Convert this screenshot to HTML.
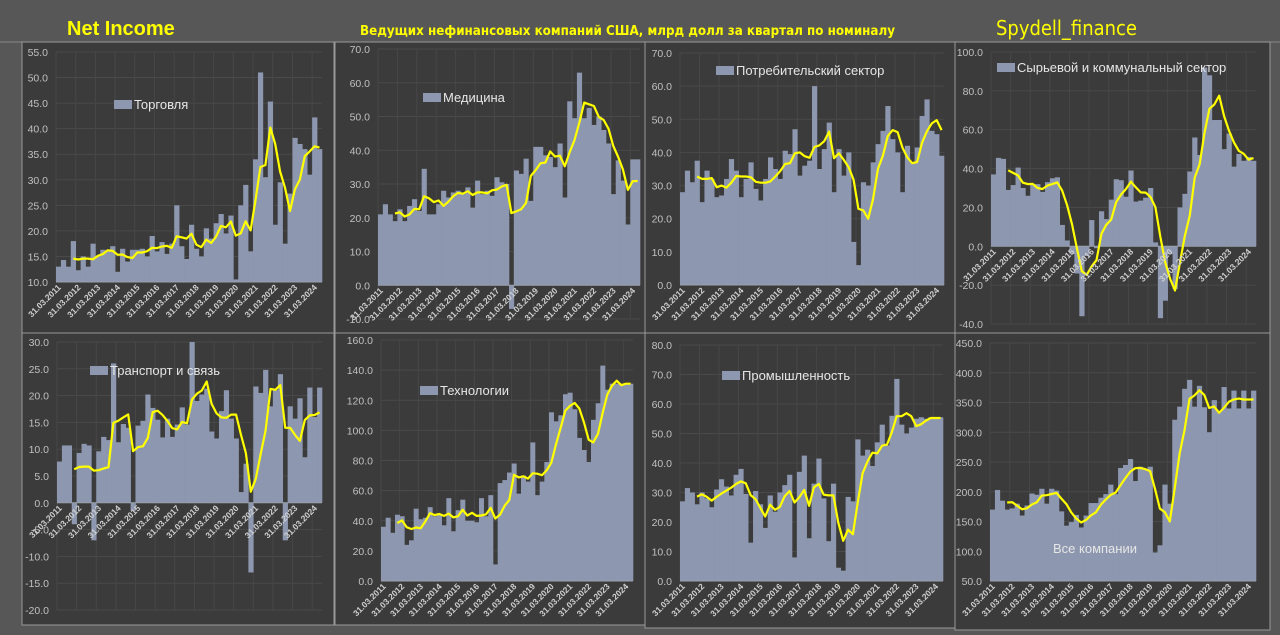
<!DOCTYPE html><html><head><meta charset="utf-8"><style>
body{margin:0;background:#575757;width:1280px;height:635px;overflow:hidden;font-family:"Liberation Sans","DejaVu Sans",sans-serif}
svg{position:absolute;left:0;top:0}
</style></head><body>
<svg id="s" width="1280" height="635" xmlns="http://www.w3.org/2000/svg">
<rect width="1280" height="635" fill="#575757"/>
<text x="67" y="35" fill="#ffff00" font-size="20" font-weight="bold" font-family="Liberation Sans, sans-serif">Net Income</text>
<text x="360" y="35" fill="#ffff00" font-size="13.5" font-weight="bold" font-family="DejaVu Sans, sans-serif" textLength="535" lengthAdjust="spacingAndGlyphs">Ведущих нефинансовых компаний США, млрд долл за квартал по номиналу</text>
<text x="996" y="35" fill="#ffff00" font-size="20" font-family="DejaVu Sans, sans-serif" textLength="141" lengthAdjust="spacingAndGlyphs">Spydell_finance</text>
<line x1="0" y1="42" x2="1280" y2="42" stroke="#8a8a8a"/>
</svg>
<script>
const S=document.getElementById('s');const NS='http://www.w3.org/2000/svg';
function el(t,a,txt){const e=document.createElementNS(NS,t);for(const k in a)e.setAttribute(k,a[k]);if(txt!=null)e.textContent=txt;S.appendChild(e);return e;}
function pad(d,n){d=d.slice();while(d.length<n)d.push(d[d.length-2]);return d.slice(0,n);}
function panel(p){
 el('rect',{x:p.bx,y:p.by,width:p.bw,height:p.bh,fill:'#3b3b3b',stroke:'#9a9a9a','stroke-width':1});
 const n=54,d=pad(p.d,n),x0=p.x0,x1=p.x1,bw=(x1-x0)/n;
 const Y=v=>p.yTop+(p.max-v)/(p.max-p.min)*(p.yBot-p.yTop);
 for(let v=p.min;v<=p.max+1e-9;v+=p.step){const y=Y(v);
  el('line',{x1:x0,y1:y,x2:x1,y2:y,stroke:'#4a4a4a'});
  el('text',{x:x0-8,y:y+4,fill:'#c0c0c0','font-size':10.5,'text-anchor':'end'},v.toFixed(1));}
 for(let i=0;i<=n;i+=4){const x=x0+i*bw;el('line',{x1:x,y1:p.yTop,x2:x,y2:p.yBot,stroke:'#474747'});}
 const base=p.min>0?p.min:0,yb=Y(base);
 let path='';
 for(let i=0;i<n;i++){const v=Math.max(Math.min(d[i],p.max),p.min);const y=Y(v);
  el('rect',{x:x0+i*bw,y:Math.min(y,yb),width:bw+0.3,height:Math.abs(yb-y),fill:'#8d98b0'});}
 el('line',{x1:x0,y1:yb,x2:x1,y2:yb,stroke:'#9aa0aa'});
 for(let i=3;i<n;i++){const m=(d[i]+d[i-1]+d[i-2]+d[i-3])/4;const v=Math.min(m,p.max);path+=(i==3?'M':'L')+(x0+(i+0.5)*bw).toFixed(1)+','+Y(v).toFixed(1);}
 el('path',{d:path,fill:'none',stroke:'#ffff00','stroke-width':2.2,'stroke-linejoin':'round'});
 for(let k=0;k<14;k++){const x=x0+(k*4+0.5)*bw+3,y=yb+6;
  el('text',{x:x,y:y,fill:'#cfcfcf','font-size':8.5,'font-weight':'bold','text-anchor':'end',transform:`rotate(-45 ${x} ${y})`},'31.03.'+(2011+k));}
 el('rect',{x:p.lx,y:p.ly-9,width:18,height:9,fill:'#8d98b0'});
 el('text',{x:p.lx+20,y:p.ly,fill:'#e6e6e6','font-size':13},p.leg);
}
const P=[
{bx:22,by:42,bw:312,bh:291,x0:56,x1:322,min:10,max:55,step:5,yTop:52,yBot:282,lx:114,ly:109,leg:'Торговля',
 d:[13,14.3,13,18,12.3,15,13,17.5,15,16.3,16,17,12,16.5,14,16.3,16.3,16.5,15,19,16,17.8,15.5,17.5,25,17,14.5,21.2,16.5,15,20.5,18.5,21.5,23.3,19.5,23,10.5,25,29,16,34,51,30.5,45.3,21.2,29.5,17.5,27.3,38.2,37,36,31,42.2,36]},
{bx:335,by:42,bw:310,bh:291,x0:378,x1:640,min:-10,max:70,step:10,yTop:49,yBot:319,lx:423,ly:102,leg:'Медицина',
 d:[21,24,21,19,22.5,19,23.5,25.5,22,34.5,21,21,24,28,26,27.5,28,27,29,23,31,27,28,26.5,32,30.5,30,-7,34,33,37.5,25,41,41,38.5,38,35,42,26,54.5,49.5,63,49.5,52.5,47.5,50,46,42,27,37,31,18,37.3,37.3]},
{bx:645,by:42,bw:310,bh:291,x0:680,x1:944,min:0,max:70,step:10,yTop:53,yBot:285,lx:716,ly:75,leg:'Потребительский сектор',
 d:[28,34.5,31,37.5,25,34.5,32,26.5,27,32,38,34.5,26.5,32,37,29,25.5,32,38.5,35,32,40.5,39.5,47,33,36,37.5,60,35,41,49,28,41,33,40,13,6,31,30,37,42.5,46.5,54,44,40,28,42,37,41.5,51,56,46.5,45.5,39]},
{bx:955,by:42,bw:315,bh:291,x0:991,x1:1256,min:-40,max:100,step:20,yTop:52,yBot:324,lx:997,ly:72,leg:'Сырьевой и коммунальный сектор',
 d:[37,45.5,45,29,31.5,40.5,30,26,32,32,28,33,35,35.5,11,3,-4,-14,-36,-5,13.5,-1,18,14,24,34.5,34,25.5,39,23,23.5,25,30,2,-37,-28,-4,-22,20,27,38.5,56,47,92,88,65,65,50,58,41,47.5,44,46,44]},
{bx:22,by:333,bw:312,bh:292,x0:57,x1:322,min:-20,max:30,step:5,yTop:342,yBot:610,lx:90,ly:375,leg:'Транспорт и связь',
 d:[7.7,10.7,10.7,-4,9.3,11,10.7,-7,9.6,12.3,11.7,26,11.3,14.7,14,-1.5,14.4,15.3,20.2,17.7,15.5,12.2,15.7,12.3,14.6,17.8,14.6,30,19,20.2,21.3,13.3,12,17.1,21,15.7,12,2,7.3,-13,21.7,20.5,24.8,18,21,24,-7,18,15.7,19.5,8.5,21.5,16,21.5]},
{bx:335,by:333,bw:310,bh:292,x0:381,x1:633,min:0,max:160,step:20,yTop:340,yBot:581,lx:420,ly:395,leg:'Технологии',
 d:[36,42,32,44,43,24,27,48,41,42,49,43,44,37,55,33,47,54,40,40,39,55,43,57,11,65,67,72,78,58,70,66,92,57,66,79,112,106,110,124,125,114,95,87,79,107,118,143,127,131,131,131,131,131]},
{bx:645,by:333,bw:310,bh:295,x0:680,x1:943,min:0,max:80,step:10,yTop:345,yBot:581,lx:722,ly:380,leg:'Промышленность',
 d:[27,31.5,30,26,30,28,25,31,34.5,32,29,36,38,29.5,13,30.5,26,18,29,23.5,30,32.5,36,8,37,42.5,14.5,33,41.5,28,13.5,33,4.5,3.5,28.5,27,48,42.5,44.5,39,47,53,46,56,68.5,53,50,52,55,55.5,55,55.5,55,55.5]},
{bx:955,by:333,bw:315,bh:297,x0:990,x1:1256,min:50,max:450,step:50,yTop:343,yBot:581,lx:1033,ly:553,leg:'Все компании',
 d:[170,203,185,170,172,180,160,177,197,195,205,180,205,202,167,143,149,161,140,160,181,181,190,196,212,196,240,245,255,218,242,237,242,98,110,212,180,321,343,373,388,343,378,342,300,354,335,376,340,370,340,370,340,370]}
];
P.forEach(panel);
</script>
</body></html>
